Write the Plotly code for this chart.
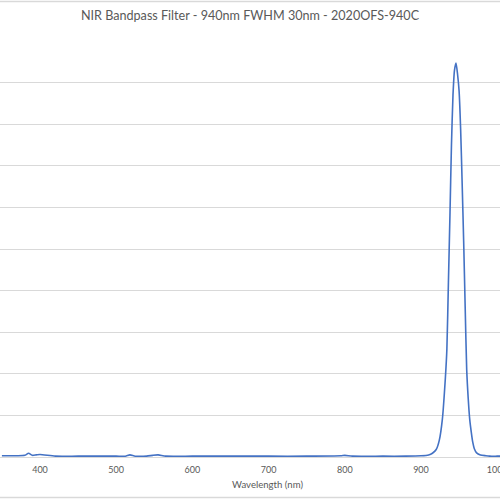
import plotly.graph_objects as go

# transmission curve (nm, %)
wavelength = [350, 360, 370, 380, 385, 390, 395, 400, 420, 450, 500, 512, 518, 525, 540,
              548, 555, 565, 600, 650, 700, 750, 795, 800, 810, 850, 880, 900, 910, 915,
              920, 924, 928, 932, 934, 936, 938, 940, 942, 944, 946, 948, 950, 952, 954,
              956, 958, 960, 962, 964, 966, 968, 970, 973, 978, 985, 990, 1000, 1010]
transmission = [0.3, 0.3, 0.3, 0.4, 0.9, 0.4, 0.5, 0.6, 0.2, 0.2, 0.2, 0.2, 0.5, 0.2, 0.2,
                0.4, 0.5, 0.2, 0.2, 0.2, 0.2, 0.2, 0.3, 0.4, 0.2, 0.2, 0.2, 0.3, 0.5, 0.9,
                1.8, 4.0, 9.0, 19, 26, 42, 58, 75, 87, 93, 94.7, 92, 88, 79, 66,
                52, 36, 21, 14, 9, 6, 3.5, 2.0, 1.0, 0.5, 0.3, 0.2, 0.2, 0.2]

title_text = 'NIR Bandpass Filter - 940nm FWHM 30nm - 2020OFS-940C'
x_title = 'Wavelength (nm)'

grey = '#595959'
grid = '#d9d9d9'

fig = go.Figure()
fig.add_trace(go.Scatter(x=wavelength, y=transmission, mode='lines',
                         line=dict(color='#4472c4', width=1.6, shape='spline', smoothing=0.6),
                         hoverinfo='skip'))

fig.update_layout(
    width=500,
    height=500,
    margin=dict(l=0, r=0, t=41, b=43),
    paper_bgcolor='white',
    plot_bgcolor='white',
    showlegend=False,
    font=dict(family='Lato, Open Sans, sans-serif', color=grey, size=10),
    title=dict(text=title_text, x=0.5, xanchor='center', y=1 - 16 / 500, yanchor='middle',
               font=dict(size=12.6, color=grey)),
    shapes=[
        # outer chart border (cropped), top and bottom
        dict(type='line', xref='paper', yref='paper', x0=0, x1=1, y0=1 + 39.5 / 416, y1=1 + 39.5 / 416,
             line=dict(color=grid, width=1.5)),
        dict(type='line', xref='paper', yref='paper', x0=0, x1=1, y0=-40.5 / 416, y1=-40.5 / 416,
             line=dict(color=grid, width=1.5)),
    ],
    annotations=[
        dict(text=x_title, xref='paper', yref='paper', x=267 / 500, y=-27 / 416,
             showarrow=False, xanchor='center', yanchor='middle', font=dict(size=9.6, color=grey)),
    ],
)

fig.update_xaxes(range=[347.5, 1003.7], tickvals=[400, 500, 600, 700, 800, 900, 1000],
                 showgrid=False, zeroline=False, showline=False, ticks='',
                 ticklabelstandoff=6, ticklabeloverflow='allow',
                 tickfont=dict(size=9, color=grey), automargin=False)
fig.update_yaxes(range=[0, 100], dtick=10, showgrid=True, gridcolor=grid, gridwidth=1,
                 zeroline=True, zerolinecolor=grid, zerolinewidth=1,
                 showticklabels=False, showline=False, ticks='', automargin=False)

fig.write_html("out.html", config={'displayModeBar': False},
               post_script="document.body.style.margin='0';")
